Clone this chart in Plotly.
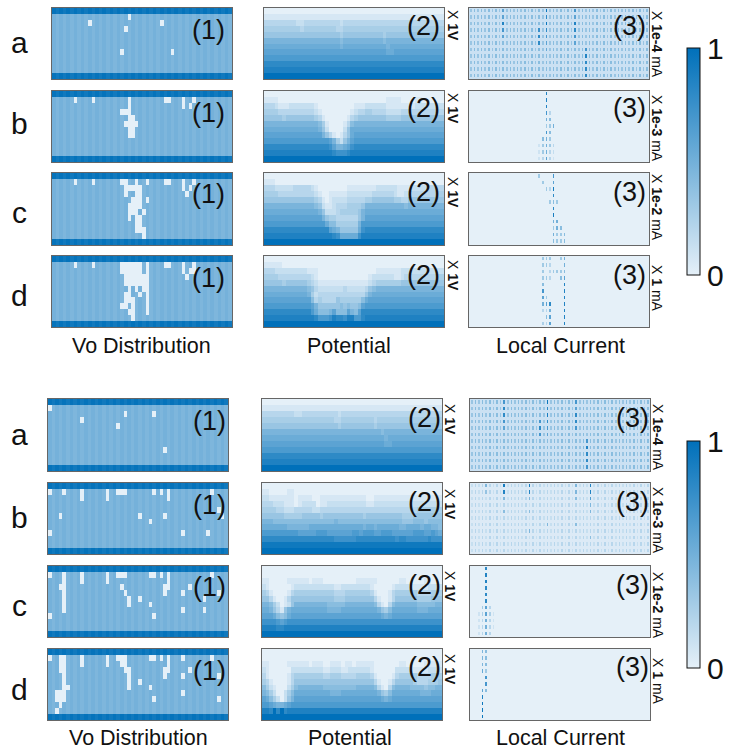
import plotly.graph_objects as go

W, H = 729, 753
ROW_LABELS = ["a", "b", "c", "d"]
COLUMN_TITLES = ["Vo Distribution", "Potential", "Local Current"]
UNITS = ["1e-4", "1e-3", "1e-2", "1"]
COLORS = [[0, "#E5F0F8"], [1, "#0070BA"]]

# ---- Vo distribution: {row: [white columns]} ----
VO_TOP_A = {1: [21], 2: [10, 30], 3: [20], 7: [19, 33]}
VO_TOP_B = {1: [6, 11, 21, 31, 32, 36, 39], 2: [21, 36, 38], 3: [19, 20, 21], 4: [21, 22],
            5: [20, 21, 22, 23], 6: [21, 22], 7: [21, 22]}
VO_TOP_C = {1: [6, 11, 19, 20, 23, 26, 31, 32, 36, 39], 2: [20, 21, 22, 23, 24, 36, 38], 3: [20, 23, 24, 37],
            4: [22, 23, 24, 26], 5: [21, 22, 23, 24], 6: [21, 22, 23, 25], 7: [21, 23, 24], 8: [23, 24],
            9: [23, 24, 25], 10: [25]}
VO_TOP_D = {1: [6, 11, 19, 20, 21, 22, 23, 24, 26, 31, 32, 36, 39], 2: [19, 20, 21, 22, 23, 24, 26, 36, 38, 39],
            3: [20, 21, 22, 23, 24, 25, 26, 37], 4: [20, 21, 22, 23, 24, 25, 26], 5: [21, 23, 25, 26],
            6: [20, 21, 24, 26], 7: [20, 21, 22, 26], 8: [19, 20, 22, 26], 9: [21, 22, 26], 10: [22]}
VO_BOT_A = {1: [0], 2: [21, 29], 3: [9], 4: [19], 8: [32]}
VO_BOT_B = {1: [0, 4, 9, 16, 19, 20, 21, 29, 31, 33, 45], 2: [9, 16, 33], 4: [47], 5: [3, 25, 32, 48], 6: [28],
            8: [0, 37, 44]}
VO_BOT_C = {1: [0, 4, 9, 16, 19, 20, 21, 28, 29, 31, 33, 45], 2: [4, 9, 16, 33], 3: [3, 4, 20, 32, 33, 39],
            4: [4, 21, 32, 37, 47], 5: [4, 22, 25, 43], 6: [4, 22, 28], 7: [4, 37, 43], 8: [0, 29]}
VO_BOT_D = {1: [0, 3, 4, 9, 16, 19, 20, 21, 28, 29, 31, 33, 37, 45], 2: [3, 4, 9, 16, 20, 21, 33],
            3: [3, 4, 21, 22, 32, 33, 39], 4: [4, 22, 32, 37, 47], 5: [4, 22, 25], 6: [4, 5, 22, 28],
            7: [2, 3, 4, 37], 8: [2, 3, 4, 29, 47], 9: [3], 10: [2]}
VO_EDGE_LEVELS = [0.98, 0.93]
VO_BASE_LEVELS = [0.49, 0.45]
VO_WHITE = 0.0

# ---- Potential: 12 rows, 50 columns, hex level 0..f ----
P_TOP_A = ["0" * 50, "1" * 50,
    "33333 33332 23333 33333 32333 33333 33333 33333 33333 33333",
    "44444 44444 34444 44444 33444 44444 44444 44444 44444 44444",
    "55555 55555 55555 55555 54555 55555 55545 55555 55555 55555",
    "77777 77777 77777 77777 76777 77777 77767 77777 77777 77777",
    "88888 88888 88888 88888 87888 88888 88887 88888 88888 88888",
    "99999 99999 99999 99999 99999 99999 99998 89999 99999 99999",
    "a" * 50, "c" * 50, "d" * 50, "f" * 50]
P_TOP_B = ["0" * 50,
    "11110 00000 00000 00000 00000 00000 00001 11100 00110 00000",
    "33321 11222 22221 00000 00000 11122 22221 11111 11222 22222",
    "44443 33333 33332 10000 00001 23344 33332 22233 33333 33333",
    "55555 45555 55554 31000 00013 45555 55554 44455 55555 55555",
    "77777 77777 77777 64100 00136 77777 77777 77777 77777 77777",
    "88888 88888 88888 75200 00258 88888 88888 88888 88888 88888",
    "99999 99999 99999 97531 01358 99999 99999 99999 99999 99999",
    "aaaaa aaaaa aaaaa aaa97 42579 aaaaa aaaaa aaaaa aaaaa aaaaa",
    "ccccc ccccc ccccc cccb9 7789b ccccc ccccc ccccc ccccc ccccc",
    "ddddd ddddd ddddd ddddc bbbcd ddddd ddddd ddddd ddddd ddddd",
    "f" * 50]
P_TOP_C = ["0" * 50,
    "11100 00000 00000 00000 00000 00000 00000 00000 00000 00000",
    "33322 22233 33321 00000 00011 11111 12222 22111 12222 33333",
    "44443 33333 33332 10011 11122 22222 33333 32112 33333 33344",
    "55555 55555 55554 31012 22233 33344 55555 54433 55555 55555",
    "77777 77777 77776 52112 33344 44577 77777 77776 77777 77777",
    "88888 88888 88888 75222 34444 45788 88888 88888 88888 88888",
    "99999 99999 99999 97544 33333 35799 99999 99999 99999 99999",
    "aaaaa aaaaa aaaaa aa866 44444 47aaa aaaaa aaaaa aaaaa aaaaa",
    "ccccc ccccc ccccc ccc98 75555 58bcc ccccc ccccc ccccc ccccc",
    "ddddd ddddd ddddd ddddc b8888 8bddd ddddd ddddd ddddd ddddd",
    "f" * 50]
P_TOP_D = ["0" * 50,
    "11111 00000 00000 00000 00000 00000 00000 00000 00000 00000",
    "33322 22222 22111 00000 00000 00000 01111 11122 22222 22222",
    "44443 33333 33321 00000 00000 00001 22222 21123 33333 33344",
    "55555 45555 55432 11111 11111 11112 34444 44455 55555 55555",
    "77777 77777 77653 22222 22322 22235 67777 77777 77777 77777",
    "88888 88888 88742 33333 33333 33357 88888 88888 88888 88888",
    "99999 99999 99963 43333 54444 44689 99999 99999 99999 99999",
    "aaaaa aaaaa aaa97 55555 56565 569aa aaaaa aaaaa aaaaa aaaaa",
    "ccccc ccccc ccca8 66679 66697 69ccc ccccc ccccc ccccc ccccc",
    "ddddd ddddd ddddc aaabd ccbdd aacdd ddddd ddddd ddddd ddddd",
    "f" * 50]
P_BOT_A = ["0" * 50, "1" * 50,
    "33333 33332 23333 33333 32333 33333 33333 33333 33333 33333",
    "44444 44444 44444 44444 33444 44444 43444 44444 44444 44444",
    "55555 55555 55555 55555 54555 55555 54555 55555 55555 55555",
    "77777 77777 77777 77777 77777 77777 77767 77777 77777 77777",
    "88888 88888 88888 88888 88888 88888 88887 88888 88888 88888",
    "99999 99999 99999 99999 99999 99999 99998 89999 99999 99999",
    "a" * 50, "c" * 50, "d" * 50, "f" * 50]
P_BOT_B = ["0" * 50,
    "11000 00110 00000 00000 00000 00000 00000 00000 00000 00000",
    "22111 11110 11110 01111 11111 11110 01111 11111 11111 11111",
    "33322 21110 12222 01122 22222 22221 12222 22222 22222 22222",
    "44443 32223 33332 23333 33333 33333 33333 33333 33344 44444",
    "55555 54444 45555 54555 55555 55545 55555 55554 44555 55555",
    "77766 66666 66666 66666 76666 66666 66666 66665 55666 56666",
    "88888 88777 77788 88888 88888 88878 87888 88877 88887 88776",
    "aaaaa aaaaa 99999 aaa99 99999 aa9aa a99aa a9999 99aaa 99a98",
    "ccccc ccccc ccccc ccccc bbbbb bcccc ccccc ccbcc bbbbb bcbbb",
    "e" * 50, "f" * 50]
P_BOT_C = ["0" * 50, "0" * 50,
    "11000 00111 11101 11000 00000 01111 11000 00011 00000 11000",
    "21000 00012 22222 22222 11222 22222 10000 01222 21111 12222",
    "43100 00134 44444 44444 33344 44444 31000 13444 44433 33444",
    "55310 01355 55555 55555 44455 55555 53100 13555 55544 44555",
    "77642 01257 77777 77766 66677 77777 76310 36777 77766 66677",
    "88753 15788 88888 88877 77888 88888 88754 68888 88877 78888",
    "99986 56899 99999 99999 99999 99999 99987 89999 99999 99999",
    "bbbba 9abbb bbbbb bbbbb bbbbb bbbbb bbbbb bbbbb bbbbb bbbbb",
    "ddddc cdddd ddddd ddddd ddddd ddddd ddddd ddddd ddddd ddddd",
    "f" * 50]
P_BOT_D = ["0" * 50, "0" * 50,
    "11000 00111 11101 11001 11011 01111 10000 00011 00000 11111",
    "21000 00022 22222 22112 22112 22222 10000 00222 21111 12222",
    "31000 00134 44444 44334 44333 34444 31000 01344 44433 33444",
    "43100 00135 55555 55555 55555 55555 53100 13555 55433 34445",
    "64210 00246 77777 77666 66666 67777 76310 36777 76666 56677",
    "76420 02468 88888 88887 77888 88888 88754 68888 88887 77888",
    "98642 02579 99999 99999 99999 99999 99987 89999 99999 99999",
    "aa987 789aa aaaaa aaaaa aaaaa aaaaa aaaaa aaaaa aaaaa aaaaa",
    "ddcfc fcddd ddddd ddddd ddddd ddddd ddddd ddddd ddddd ddddd",
    "f" * 50]

# ---- Local current: base level per column (hex) + (row, col, value) ----
C_BASE_DENSE = "56565 65656 56565 65656 56565 65656 56565 65656 56565 65656"
C_BASE_MID = "23232 32323 23232 32323 23232 32323 23232 32323 23232 32323"
C_BASE_ZERO = "0" * 50
C_TOP_A = [(0, 9, .6), (1, 9, .6), (2, 9, .85), (3, 9, .7), (4, 9, .6), (0, 21, .95), (1, 21, .8), (2, 21, .95),
           (3, 21, .8), (4, 21, .7), (5, 21, .6), (6, 21, .55), (3, 19, .75), (4, 19, .8), (5, 19, .8),
           (0, 29, .7), (1, 29, .6), (2, 29, .85), (3, 29, .8), (4, 29, .7), (5, 29, .6),
           (6, 32, .7), (7, 32, .85), (8, 32, .8), (9, 32, .8), (10, 32, .8)]
C_TOP_B = [(0, 21, .85), (1, 21, .85), (2, 21, .85), (3, 21, .7), (3, 22, .2), (4, 21, .5), (4, 22, .4),
           (5, 21, .3), (5, 22, .3), (5, 23, .5), (6, 21, .7), (6, 22, .4), (7, 20, .4), (7, 21, .5), (7, 22, .3),
           (8, 19, .1), (8, 20, .3), (8, 21, .5), (8, 22, .3), (8, 23, .2), (9, 19, .1), (9, 20, .3), (9, 21, .5),
           (9, 22, .2), (9, 23, .15), (10, 19, .1), (10, 20, .2), (10, 21, .6), (10, 22, .2), (10, 23, .1)]
C_TOP_C = [(0, 23, .7), (0, 19, .3), (1, 23, .6), (1, 20, .3), (2, 23, .9), (2, 21, .3), (2, 22, .2), (3, 23, .8),
           (4, 22, .3), (4, 24, .3), (4, 23, .4), (5, 23, .8), (6, 23, .9), (7, 23, .5), (7, 24, .5),
           (8, 24, .5), (8, 23, .3), (8, 25, .4), (9, 23, .5), (9, 24, .3), (9, 25, .3), (9, 26, .4),
           (10, 23, .4), (10, 24, .3), (10, 25, .3), (10, 26, .4)]
C_TOP_D = [(0, 26, .5), (1, 26, .5), (0, 20, .3), (0, 21, .3), (0, 22, .3), (1, 20, .3), (1, 21, .3), (1, 22, .2),
           (0, 25, .3), (2, 20, .3), (2, 22, .2), (2, 23, .3), (2, 24, .3), (2, 25, .3), (2, 26, .4),
           (3, 20, .3), (3, 21, .3), (3, 22, .2), (3, 25, .4), (3, 26, .6), (4, 20, .4), (4, 26, .85),
           (5, 20, .7), (5, 26, .85), (6, 20, .6), (6, 21, .3), (6, 26, .85), (7, 20, .5), (7, 21, .6), (7, 22, .8),
           (7, 26, .85), (8, 20, .2), (8, 21, .2), (8, 22, .5), (8, 26, .85), (9, 21, .4), (9, 22, .6), (9, 26, .85),
           (10, 20, .25), (10, 21, .2), (10, 22, .6), (10, 26, .85)]
C_BOT_A = [(0, 9, .7), (1, 9, .8), (2, 9, .8), (3, 9, .7), (4, 9, .6), (0, 21, .95), (1, 21, .8), (2, 21, .9),
           (3, 21, .8), (4, 21, .7), (5, 21, .6), (3, 19, .7), (4, 19, .8), (5, 19, .7), (0, 29, .7),
           (1, 29, .6), (2, 29, .8), (3, 29, .8), (4, 29, .7), (6, 32, .7), (7, 32, .85), (8, 32, .8), (9, 32, .8),
           (10, 32, .7)]
C_BOT_B = [(0, 4, .45), (1, 4, .35), (0, 9, .9), (1, 9, .85), (2, 9, .45), (0, 16, .9), (1, 16, .85), (2, 16, .45),
           (0, 29, .45), (1, 29, .45), (2, 29, .4), (0, 33, .85), (1, 33, .85), (2, 33, .65), (3, 33, .45),
           (4, 9, .4), (4, 16, .4), (4, 33, .45), (6, 21, .45), (6, 29, .4), (7, 16, .45), (8, 33, .4)]
C_BOT_C = [(0, 4, .8), (1, 4, .85), (2, 4, .85), (3, 4, .8), (4, 4, .8), (5, 4, .8), (6, 4, .6), (6, 3, .3),
           (6, 5, .2), (7, 3, .25), (7, 4, .6), (7, 5, .25), (7, 2, .1), (7, 6, .1), (8, 3, .2), (8, 4, .5),
           (8, 5, .2), (8, 2, .1), (8, 6, .1), (9, 3, .2), (9, 4, .5), (9, 5, .2), (9, 2, .1), (9, 6, .1),
           (10, 3, .2), (10, 4, .5), (10, 5, .2), (10, 2, .1)]
C_BOT_D = [(0, 3, .45), (0, 4, .4), (1, 3, .45), (1, 4, .4), (2, 3, .45), (2, 4, .4), (3, 3, .55), (3, 4, .3),
           (4, 4, .7), (5, 4, .7), (6, 3, .6), (6, 4, .4), (7, 3, .85), (8, 3, .95), (9, 3, .95), (10, 3, .95)]

# ---- Layout in pixels ----
COLS_TOP = [(52, 232), (264, 444), (469, 649)]
COLS_BOT = [(48, 228), (262, 442), (470, 650)]
ROWS_TOP = [(8, 79), (91, 162), (173, 245), (256, 327)]
ROWS_BOT = [(399, 471), (483, 554), (566, 637), (649, 720)]
# pale field behind the dashes of the current panels that carry current everywhere
DENSE_FIELD = "#CBE1F3"
MID_FIELD = "#DCEAF6"


def hexrows(rows):
    out = []
    for r in rows:
        s = r.replace(" ", "")
        s = (s + s[-1] * 50)[:50]
        out.append([int(c, 16) / 15 for c in s])
    return out


def vo(defects):
    base = [VO_BASE_LEVELS[c % 2] for c in range(50)]
    edge = [VO_EDGE_LEVELS[c % 2] for c in range(50)]
    z = [list(base) for _ in range(12)]
    z[0] = list(edge)
    z[11] = list(edge)
    for r, cols in defects.items():
        for c in cols:
            z[r][c] = VO_WHITE
    return z


def cur(base, path):
    row = [int(c, 16) / 15 for c in base.replace(" ", "")]
    z = [list(row) for _ in range(11)]
    for r, c, v in path:
        z[r][c] = v
    return z


BLOCKS = [
    (COLS_TOP, ROWS_TOP, "coloraxis", [VO_TOP_A, VO_TOP_B, VO_TOP_C, VO_TOP_D],
     [P_TOP_A, P_TOP_B, P_TOP_C, P_TOP_D],
     [(C_BASE_DENSE, C_TOP_A), (C_BASE_ZERO, C_TOP_B), (C_BASE_ZERO, C_TOP_C), (C_BASE_ZERO, C_TOP_D)]),
    (COLS_BOT, ROWS_BOT, "coloraxis2", [VO_BOT_A, VO_BOT_B, VO_BOT_C, VO_BOT_D],
     [P_BOT_A, P_BOT_B, P_BOT_C, P_BOT_D],
     [(C_BASE_DENSE, C_BOT_A), (C_BASE_MID, C_BOT_B), (C_BASE_ZERO, C_BOT_C), (C_BASE_ZERO, C_BOT_D)]),
]

fig = go.Figure()
layout = {}
n = 0
for cols, rows, cax, vos, pots, curs in BLOCKS:
    for i in range(4):
        panels = [(vo(vos[i]), 0, 0), (hexrows(pots[i]), 0, 0), (cur(*curs[i]), 2, 3)]
        for j, (z, xg, yg) in enumerate(panels):
            n += 1
            suf = "" if n == 1 else str(n)
            fig.add_trace(go.Heatmap(z=z, coloraxis=cax, xgap=xg, ygap=yg, hoverinfo="skip",
                                     xaxis="x" + suf, yaxis="y" + suf))
            common = dict(showgrid=False, zeroline=False, showticklabels=False, ticks="", showline=True,
                          mirror=True, linecolor="#666666", linewidth=1)
            layout["xaxis" + suf] = dict(domain=[cols[j][0] / W, cols[j][1] / W], anchor="y" + suf,
                                         range=[-0.5, 49.5], **common)
            layout["yaxis" + suf] = dict(domain=[1 - rows[i][1] / H, 1 - rows[i][0] / H], anchor="x" + suf,
                                         range=[len(z) - 0.5, -0.5], **common)
            field = None
            if j == 2 and curs[i][0] == C_BASE_DENSE:
                field = DENSE_FIELD
            elif j == 2 and curs[i][0] == C_BASE_MID:
                field = MID_FIELD
            if field:
                fig.add_shape(type="rect", xref=f"x{suf} domain", yref=f"y{suf} domain", x0=0, x1=1, y0=0, y1=1,
                              fillcolor=field, line_width=0, layer="below")


def note(text, x, y, size, angle=0):
    fig.add_annotation(text=text, x=x / W, y=1 - y / H, xref="paper", yref="paper", showarrow=False,
                       xanchor="center", yanchor="middle", textangle=angle, borderpad=0,
                       font=dict(family="Liberation Sans", size=size, color="#111111"))


for lab, y in zip(ROW_LABELS, [43, 124, 213, 295]):
    note(lab, 19, y, 30)
for lab, y in zip(ROW_LABELS, [434, 517, 605, 689]):
    note(lab, 19, y, 30)

for yc in [30, 113, 194, 278]:
    note("(1)", 208, yc, 27)
for yc in [421, 505, 587, 671]:
    note("(1)", 209, yc, 27)
for yc in [26, 108, 192, 275]:
    note("(2)", 423, yc, 27)
    note("(3)", 629, yc, 27)
for yc in [418, 502, 585, 667]:
    note("(2)", 424, yc, 27)
    note("(3)", 632, yc, 27)

for u, yv, yc in zip(UNITS, [26, 109, 193, 276], [44, 128, 207, 288]):
    note("X <b>1V</b>", 453, yv, 14, 90)
    note(f"X <b>{u}</b> mA", 657, yc, 14, 90)
for u, yv, yc in zip(UNITS, [419, 504, 586, 669], [437, 520, 605, 681]):
    note("X <b>1V</b>", 450, yv, 14, 90)
    note(f"X <b>{u}</b> mA", 658, yc, 14, 90)

for t, x in zip(COLUMN_TITLES, [141, 349, 560]):
    note(t, x, 346, 21.5)
for t, x in zip(COLUMN_TITLES, [138, 350, 560]):
    note(t, x, 738, 21.5)


def colorbar(y0, y1):
    return dict(cmin=0, cmax=1, colorscale=COLORS,
                colorbar=dict(x=687 / W, xanchor="left", xpad=0, ypad=0, thickness=13, lenmode="pixels",
                              len=y1 - y0, y=1 - (y0 + y1) / 2 / H, yanchor="middle", outlinecolor="#111111",
                              outlinewidth=1, tickvals=[0, 1], ticktext=["0", "1"], ticks="",
                              tickfont=dict(family="Liberation Sans", size=30, color="#111111")))


fig.update_layout(width=W, height=H, margin=dict(l=0, r=0, t=0, b=0, autoexpand=False),
                  paper_bgcolor="white", plot_bgcolor="#E5F0F8", showlegend=False,
                  coloraxis=colorbar(48, 275), coloraxis2=colorbar(441, 668), **layout)
fig.write_html("out.html", config={"displayModeBar": False}, post_script="document.body.style.margin='0';")
